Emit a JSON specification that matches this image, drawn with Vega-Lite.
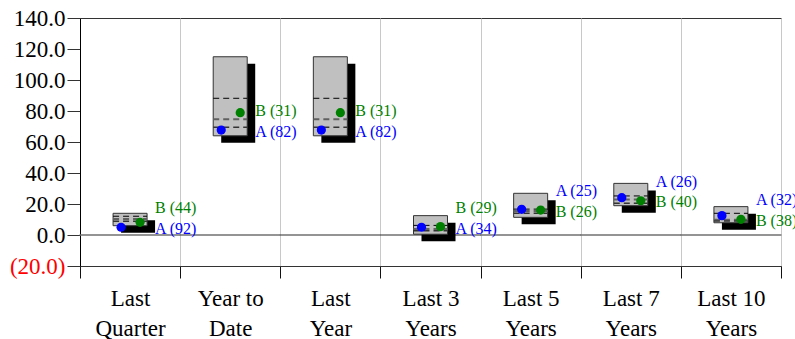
{
  "$schema": "https://vega.github.io/schema/vega-lite/v6.json",
  "width": 701,
  "height": 248,
  "autosize": {"type": "none"},
  "padding": {"left": 80, "top": 18, "right": 14, "bottom": 73},
  "config": {
    "view": {"stroke": "#333333", "strokeWidth": 1},
    "font": "Liberation Serif",
    "axisY": {"labelOverlap": false, "labelFontSize": 23, "labelFont": "Liberation Serif", "labelPadding": 2, "tickSize": 13, "tickColor": "#333333", "domainColor": "black", "grid": false, "title": null}
  },
  "datasets": {
    "stats": [
      {"period": "Last Quarter", "low": 6.0, "p75": 8.8, "median": 10.3, "p25": 12.1, "high": 14.0},
      {"period": "Year to Date", "low": 64.0, "p75": 69.5, "median": 74.6, "p25": 88.2, "high": 115.0},
      {"period": "Last Year", "low": 64.0, "p75": 69.5, "median": 74.6, "p25": 88.2, "high": 115.0},
      {"period": "Last 3 Years", "low": 0.5, "p75": 2.8, "median": 3.9, "p25": 6.2, "high": 12.5},
      {"period": "Last 5 Years", "low": 11.4, "p75": 14.0, "median": 15.5, "p25": 16.7, "high": 26.9},
      {"period": "Last 7 Years", "low": 18.9, "p75": 20.5, "median": 22.9, "p25": 25.2, "high": 33.3},
      {"period": "Last 10 Years", "low": 7.9, "p75": 9.0, "median": 9.8, "p25": 14.0, "high": 18.3}
    ],
    "pts": [
      {"period": "Last Quarter", "series": "A", "value": 5.0, "label": "A (92)"},
      {"period": "Last Quarter", "series": "B", "value": 8.2, "label": "B (44)"},
      {"period": "Year to Date", "series": "A", "value": 67.7, "label": "A (82)"},
      {"period": "Year to Date", "series": "B", "value": 78.9, "label": "B (31)"},
      {"period": "Last Year", "series": "A", "value": 67.7, "label": "A (82)"},
      {"period": "Last Year", "series": "B", "value": 78.9, "label": "B (31)"},
      {"period": "Last 3 Years", "series": "A", "value": 5.0, "label": "A (34)"},
      {"period": "Last 3 Years", "series": "B", "value": 5.4, "label": "B (29)"},
      {"period": "Last 5 Years", "series": "A", "value": 16.6, "label": "A (25)"},
      {"period": "Last 5 Years", "series": "B", "value": 16.1, "label": "B (26)"},
      {"period": "Last 7 Years", "series": "A", "value": 24.1, "label": "A (26)"},
      {"period": "Last 7 Years", "series": "B", "value": 22.1, "label": "B (40)"},
      {"period": "Last 10 Years", "series": "A", "value": 12.5, "label": "A (32)"},
      {"period": "Last 10 Years", "series": "B", "value": 10.1, "label": "B (38)"}
    ]
  },
  "encoding": {
    "x": {
      "field": "period",
      "type": "nominal",
      "scale": {
        "domain": ["Last Quarter", "Year to Date", "Last Year", "Last 3 Years", "Last 5 Years", "Last 7 Years", "Last 10 Years"],
        "paddingInner": 0,
        "paddingOuter": 0
      },
      "axis": {
        "title": null,
        "tickBand": "extent",
        "grid": true,
        "gridColor": "#c8c8c8",
        "gridWidth": 1,
        "domainColor": "#333333",
        "tickColor": "#111111",
        "tickSize": 12,
        "labelAngle": 0,
        "labelFont": "Liberation Serif",
        "labelFontSize": 23,
        "labelColor": "black",
        "labelPadding": 9,
        "labelLineHeight": 30,
        "labelBaseline": "top",
        "labelLimit": 0,
        "labelOverlap": false,
        "labelExpr": "[slice(datum.label, 0, lastindexof(datum.label, ' ')), slice(datum.label, lastindexof(datum.label, ' ') + 1)]"
      }
    }
  },
  "layer": [
    {
      "data": {"name": "stats"},
      "mark": {"type": "tick", "size": 101, "thickness": 1.5, "color": "#707070", "opacity": 1},
      "encoding": {
        "y": {
          "datum": 0,
          "type": "quantitative",
          "scale": {"domain": [-20, 140], "nice": false, "zero": false},
          "axis": {
            "title": null,
            "values": [-20, 0, 20, 40, 60, 80, 100, 120, 140],
            "labelOverlap": false,
            "labelExpr": "datum.value < 0 ? '(' + format(-datum.value, '.1f') + ')' : format(datum.value, '.1f')",
            "labelColor": {"condition": {"test": "datum.value < 0", "value": "#ff0000"}, "value": "black"}
          }
        }
      }
    },
    {
      "data": {"name": "stats"},
      "mark": {"type": "bar", "width": 34, "color": "black", "xOffset": 8, "yOffset": 7, "y2Offset": 7},
      "encoding": {
        "y": {"field": "low", "type": "quantitative", "axis": {"title": null, "values": [-20, 0, 20, 40, 60, 80, 100, 120, 140], "labelOverlap": false}},
        "y2": {"field": "high"}
      }
    },
    {
      "data": {"name": "stats"},
      "mark": {"type": "bar", "width": 34, "fill": "#c0c0c0", "stroke": "#333333", "strokeWidth": 1},
      "encoding": {
        "y": {"field": "low", "type": "quantitative", "axis": {"title": null, "values": [-20, 0, 20, 40, 60, 80, 100, 120, 140], "labelOverlap": false}},
        "y2": {"field": "high"}
      }
    },
    {
      "data": {"name": "stats"},
      "mark": {"type": "rule", "color": "black", "strokeWidth": 1, "strokeDash": [6, 4], "xOffset": -17, "x2Offset": 17},
      "encoding": {
        "x2": {"field": "period"},
        "y": {"field": "p25", "type": "quantitative", "axis": {"title": null, "values": [-20, 0, 20, 40, 60, 80, 100, 120, 140], "labelOverlap": false}}
      }
    },
    {
      "data": {"name": "stats"},
      "mark": {"type": "rule", "color": "#606060", "strokeWidth": 2, "strokeDash": [6, 4], "xOffset": -17, "x2Offset": 17},
      "encoding": {
        "x2": {"field": "period"},
        "y": {"field": "median", "type": "quantitative", "axis": {"title": null, "values": [-20, 0, 20, 40, 60, 80, 100, 120, 140], "labelOverlap": false}}
      }
    },
    {
      "data": {"name": "stats"},
      "mark": {"type": "rule", "color": "#333333", "strokeWidth": 1.5, "strokeDash": [6, 4], "xOffset": -17, "x2Offset": 17},
      "encoding": {
        "x2": {"field": "period"},
        "y": {"field": "p75", "type": "quantitative", "axis": {"title": null, "values": [-20, 0, 20, 40, 60, 80, 100, 120, 140], "labelOverlap": false}}
      }
    },
    {
      "data": {"name": "pts"},
      "transform": [{"filter": "datum.series === 'A'"}],
      "mark": {"type": "circle", "size": 85, "opacity": 1, "xOffset": -9},
      "encoding": {
        "y": {"field": "value", "type": "quantitative", "axis": {"title": null, "values": [-20, 0, 20, 40, 60, 80, 100, 120, 140], "labelOverlap": false}},
        "color": {"field": "series", "type": "nominal", "scale": {"domain": ["A", "B"], "range": ["#0000ff", "#008000"]}, "legend": null}
      }
    },
    {
      "data": {"name": "pts"},
      "transform": [{"filter": "datum.series === 'B'"}],
      "mark": {"type": "circle", "size": 85, "opacity": 1, "xOffset": 10},
      "encoding": {
        "y": {"field": "value", "type": "quantitative", "axis": {"title": null, "values": [-20, 0, 20, 40, 60, 80, 100, 120, 140], "labelOverlap": false}},
        "color": {"field": "series", "type": "nominal", "legend": null}
      }
    },
    {
      "data": {"name": "pts"},
      "transform": [
        {"joinaggregate": [{"op": "min", "field": "value", "as": "minv"}], "groupby": ["period"]},
        {"filter": "datum.value === datum.minv"}
      ],
      "mark": {"type": "text", "align": "left", "baseline": "middle", "dx": 25, "yOffset": 1.5, "font": "Liberation Serif", "fontSize": 16},
      "encoding": {
        "y": {"field": "minv", "type": "quantitative", "axis": {"title": null, "values": [-20, 0, 20, 40, 60, 80, 100, 120, 140], "labelOverlap": false}},
        "text": {"field": "label"},
        "color": {"field": "series", "type": "nominal", "legend": null}
      }
    },
    {
      "data": {"name": "pts"},
      "transform": [
        {"joinaggregate": [{"op": "min", "field": "value", "as": "minv"}], "groupby": ["period"]},
        {"filter": "datum.value > datum.minv"}
      ],
      "mark": {"type": "text", "align": "left", "baseline": "middle", "dx": 25, "yOffset": -19, "font": "Liberation Serif", "fontSize": 16},
      "encoding": {
        "y": {"field": "minv", "type": "quantitative", "axis": {"title": null, "values": [-20, 0, 20, 40, 60, 80, 100, 120, 140], "labelOverlap": false}},
        "text": {"field": "label"},
        "color": {"field": "series", "type": "nominal", "legend": null}
      }
    }
  ]
}
